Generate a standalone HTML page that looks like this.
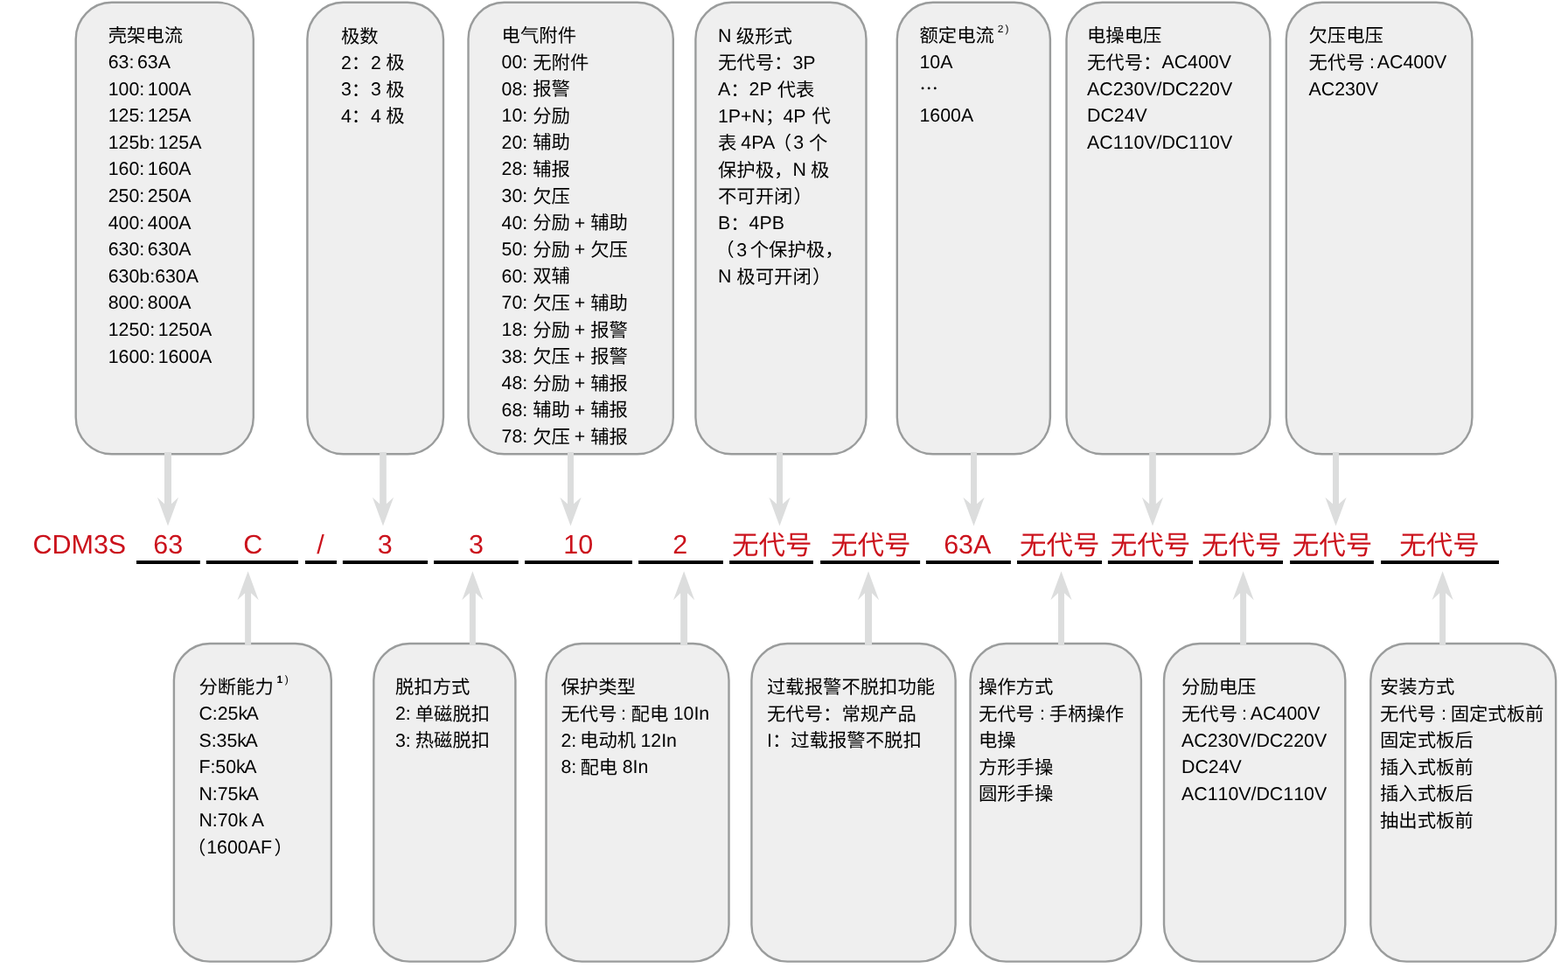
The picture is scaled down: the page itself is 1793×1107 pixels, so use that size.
<!DOCTYPE html>
<html lang="zh"><head><meta charset="utf-8"><title>CDM3S 型号说明</title>
<style>
html,body{margin:0;padding:0;background:#fff}
body{width:1793px;height:1107px;overflow:hidden;font-family:"Liberation Sans","Noto Sans CJK SC",sans-serif}
svg{display:block;will-change:transform;transform:translateZ(0)}
text{font-family:"Liberation Sans","Noto Sans CJK SC",sans-serif;font-kerning:none;text-rendering:geometricPrecision;white-space:pre}
.k{fill:#000;font-size:21.35px}
.r{fill:#cb121c;font-size:30.5px}
.bx{fill:#efefef;stroke:#9a9c9c;stroke-width:2.4}
.ar{fill:#dcdddd}
</style></head>
<body>
<svg width="1793" height="1107" viewBox="0 0 1793 1107" role="img" aria-label="CDM3S 型号含义说明图">
<g>
<rect class="bx" x="86.7" y="2.8" width="203.1" height="516.5" rx="41" ry="42"/>
<rect class="bx" x="351.4" y="2.8" width="155.6" height="516.5" rx="41" ry="42"/>
<rect class="bx" x="535.5" y="2.8" width="234.3" height="516.5" rx="41" ry="42"/>
<rect class="bx" x="795.4" y="2.8" width="195.1" height="516.5" rx="41" ry="42"/>
<rect class="bx" x="1025.8" y="2.8" width="175.1" height="516.5" rx="41" ry="42"/>
<rect class="bx" x="1219.5" y="2.8" width="232.9" height="516.5" rx="41" ry="42"/>
<rect class="bx" x="1470.8" y="2.8" width="212.6" height="516.5" rx="41" ry="42"/>
<rect class="bx" x="198.9" y="736" width="179.9" height="363.6" rx="41" ry="42"/>
<rect class="bx" x="427.3" y="736" width="162.1" height="363.6" rx="41" ry="42"/>
<rect class="bx" x="624.5" y="736" width="209" height="363.6" rx="41" ry="42"/>
<rect class="bx" x="859.4" y="736" width="233.2" height="363.6" rx="41" ry="42"/>
<rect class="bx" x="1109.5" y="736" width="195.4" height="363.6" rx="41" ry="42"/>
<rect class="bx" x="1331" y="736" width="207.3" height="363.6" rx="41" ry="42"/>
<rect class="bx" x="1567.3" y="736" width="211.8" height="363.6" rx="41" ry="42"/>
<path class="ar" d="M188 517 L188 576.3 L179.9 568.7 L192 601.5 L204.1 568.7 L196 576.3 L196 517 z"/>
<path class="ar" d="M434.15 517 L434.15 576.3 L425.9 568.7 L438 601.5 L450.1 568.7 L441.85 576.3 L441.85 517 z"/>
<path class="ar" d="M649 517 L649 576.3 L640.4 568.7 L652.5 601.5 L664.6 568.7 L656 576.3 L656 517 z"/>
<path class="ar" d="M888 517 L888 576.3 L879.4 568.7 L891.5 601.5 L903.6 568.7 L895 576.3 L895 517 z"/>
<path class="ar" d="M1110 517 L1110 576.3 L1101.4 568.7 L1113.5 601.5 L1125.6 568.7 L1117 576.3 L1117 517 z"/>
<path class="ar" d="M1314.15 517 L1314.15 576.3 L1305.9 568.7 L1318 601.5 L1330.1 568.7 L1321.85 576.3 L1321.85 517 z"/>
<path class="ar" d="M1524 517 L1524 576.3 L1515.4 568.7 L1527.5 601.5 L1539.6 568.7 L1531 576.3 L1531 517 z"/>
<path class="ar" d="M280.1 737.4 L280.1 678.3 L271.5 686.3 L283.6 653.3 L295.7 686.3 L287.1 678.3 L287.1 737.4 z"/>
<path class="ar" d="M536.9 737.4 L536.9 678.3 L528.3 686.3 L540.4 653.3 L552.5 686.3 L543.9 678.3 L543.9 737.4 z"/>
<path class="ar" d="M778.15 737.4 L778.15 678.3 L770 686.3 L782.1 653.3 L794.2 686.3 L786.05 678.3 L786.05 737.4 z"/>
<path class="ar" d="M989 737.4 L989 678.3 L980.9 686.3 L993 653.3 L1005.1 686.3 L997 678.3 L997 737.4 z"/>
<path class="ar" d="M1210 737.4 L1210 678.3 L1201.4 686.3 L1213.5 653.3 L1225.6 686.3 L1217 678.3 L1217 737.4 z"/>
<path class="ar" d="M1418.1 737.4 L1418.1 678.3 L1409.5 686.3 L1421.6 653.3 L1433.7 686.3 L1425.1 678.3 L1425.1 737.4 z"/>
<path class="ar" d="M1646.1 737.4 L1646.1 678.3 L1637.5 686.3 L1649.6 653.3 L1661.7 686.3 L1653.1 678.3 L1653.1 737.4 z"/>
<rect x="156" y="641" width="72.8" height="4"/>
<rect x="235.8" y="641" width="105.2" height="4"/>
<rect x="349" y="641" width="36" height="4"/>
<rect x="391.9" y="641" width="97.2" height="4"/>
<rect x="496.1" y="641" width="96.7" height="4"/>
<rect x="600.1" y="641" width="122.9" height="4"/>
<rect x="730.1" y="641" width="96.8" height="4"/>
<rect x="834.1" y="641" width="95.8" height="4"/>
<rect x="938.1" y="641" width="114" height="4"/>
<rect x="1058.9" y="641" width="97" height="4"/>
<rect x="1163" y="641" width="97" height="4"/>
<rect x="1266.9" y="641" width="97.2" height="4"/>
<rect x="1371.1" y="641" width="95.9" height="4"/>
<rect x="1475.1" y="641" width="95.8" height="4"/>
<rect x="1579.1" y="641" width="134.9" height="4"/>
<g role="text" aria-label="CDM3S"><text class="r" x="37.45 59.48 81.5 106.91 123.87" y="633">CDM3S</text></g>
<g role="text" aria-label="63"><text class="r" x="175.35 192.31" y="633">63</text></g>
<g role="text" aria-label="C"><text class="r" x="278.25" y="633">C</text></g>
<g role="text" aria-label="/"><text class="r" x="362.2" y="633">/</text></g>
<g role="text" aria-label="3"><text class="r" x="431.84" y="633">3</text></g>
<g role="text" aria-label="3"><text class="r" x="536.04" y="633">3</text></g>
<g role="text" aria-label="10"><text class="r" x="644.28 661.24" y="633">10</text></g>
<g role="text" aria-label="2"><text class="r" x="769.17" y="633">2</text></g>
<g role="text" aria-label="无代号"><text class="r" x="836.91 867.41 897.91" y="633.5">无代号</text></g>
<g role="text" aria-label="无代号"><text class="r" x="950.11 980.61 1011.11" y="633.5">无代号</text></g>
<g role="text" aria-label="63A"><text class="r" x="1079.15 1096.11 1113.08" y="633">63A</text></g>
<g role="text" aria-label="无代号"><text class="r" x="1166.01 1196.51 1227.01" y="633.5">无代号</text></g>
<g role="text" aria-label="无代号"><text class="r" x="1269.71 1300.21 1330.71" y="633.5">无代号</text></g>
<g role="text" aria-label="无代号"><text class="r" x="1373.91 1404.41 1434.91" y="633.5">无代号</text></g>
<g role="text" aria-label="无代号"><text class="r" x="1477.71 1508.21 1538.71" y="633.5">无代号</text></g>
<g role="text" aria-label="无代号"><text class="r" x="1600.21 1630.71 1661.21" y="633.5">无代号</text></g>
<g role="text" aria-label="壳架电流"><text class="k" x="123.7 145.05 166.4 187.75" y="48">壳架电流</text></g>
<g role="text" aria-label="63:63A"><text class="k" x="123.7 135.57 147.45 156.88 168.75 180.63" y="78">63:63A</text></g>
<g role="text" aria-label="100:100A"><text class="k" x="123.7 135.57 147.45 159.32 168.75 180.63 192.5 204.37" y="108.6">100:100A</text></g>
<g role="text" aria-label="125:125A"><text class="k" x="123.7 135.57 147.45 159.32 168.75 180.63 192.5 204.37" y="139.2">125:125A</text></g>
<g role="text" aria-label="125b:125A"><text class="k" x="123.7 135.57 147.45 159.32 171.2 180.63 192.5 204.37 216.25" y="169.8">125b:125A</text></g>
<g role="text" aria-label="160:160A"><text class="k" x="123.7 135.57 147.45 159.32 168.75 180.63 192.5 204.37" y="200.4">160:160A</text></g>
<g role="text" aria-label="250:250A"><text class="k" x="123.7 135.57 147.45 159.32 168.75 180.63 192.5 204.37" y="231">250:250A</text></g>
<g role="text" aria-label="400:400A"><text class="k" x="123.7 135.57 147.45 159.32 168.75 180.63 192.5 204.37" y="261.6">400:400A</text></g>
<g role="text" aria-label="630:630A"><text class="k" x="123.7 135.57 147.45 159.32 168.75 180.63 192.5 204.37" y="292.2">630:630A</text></g>
<g role="text" aria-label="630b:630A"><text class="k" x="123.7 135.57 147.45 159.32 171.2 177.13 189 200.87 212.75" y="322.8">630b:630A</text></g>
<g role="text" aria-label="800:800A"><text class="k" x="123.7 135.57 147.45 159.32 168.75 180.63 192.5 204.37" y="353.4">800:800A</text></g>
<g role="text" aria-label="1250:1250A"><text class="k" x="123.7 135.57 147.45 159.32 171.2 180.63 192.5 204.37 216.25 228.12" y="384">1250:1250A</text></g>
<g role="text" aria-label="1600:1600A"><text class="k" x="123.7 135.57 147.45 159.32 171.2 180.63 192.5 204.37 216.25 228.12" y="414.6">1600:1600A</text></g>
<g role="text" aria-label="极数"><text class="k" x="390 411.35" y="48.6">极数</text></g>
<g role="text" aria-label="2：2 极"><text class="k" x="390" y="78.6">2</text><text class="k" x="401.87" y="79.2">：</text><text class="k" x="424.02" y="78.6">2</text><text class="k" x="441.23" y="79.2">极</text></g>
<g role="text" aria-label="3：3 极"><text class="k" x="390" y="109.2">3</text><text class="k" x="401.87" y="109.8">：</text><text class="k" x="424.02" y="109.2">3</text><text class="k" x="441.23" y="109.8">极</text></g>
<g role="text" aria-label="4：4 极"><text class="k" x="390" y="139.8">4</text><text class="k" x="401.87" y="140.4">：</text><text class="k" x="424.02" y="139.8">4</text><text class="k" x="441.23" y="140.4">极</text></g>
<g role="text" aria-label="电气附件"><text class="k" x="573.6 594.95 616.3 637.65" y="48">电气附件</text></g>
<g role="text" aria-label="00: 无附件"><text class="k" x="573.6 585.47 597.35" y="78">00:</text><text class="k" x="609.21 630.56 651.91" y="78.6">无附件</text></g>
<g role="text" aria-label="08: 报警"><text class="k" x="573.6 585.47 597.35" y="108.6">08:</text><text class="k" x="609.21 630.56" y="109.2">报警</text></g>
<g role="text" aria-label="10: 分励"><text class="k" x="573.6 585.47 597.35" y="139.2">10:</text><text class="k" x="609.21 630.56" y="139.8">分励</text></g>
<g role="text" aria-label="20: 辅助"><text class="k" x="573.6 585.47 597.35" y="169.8">20:</text><text class="k" x="609.21 630.56" y="170.4">辅助</text></g>
<g role="text" aria-label="28: 辅报"><text class="k" x="573.6 585.47 597.35" y="200.4">28:</text><text class="k" x="609.21 630.56" y="201">辅报</text></g>
<g role="text" aria-label="30: 欠压"><text class="k" x="573.6 585.47 597.35" y="231">30:</text><text class="k" x="609.21 630.56" y="231.6">欠压</text></g>
<g role="text" aria-label="40: 分励 + 辅助"><text class="k" x="573.6 585.47 597.35" y="261.6">40:</text><text class="k" x="609.21 630.56" y="262.2">分励</text><text class="k" x="656.84" y="261.6">+</text><text class="k" x="675.24 696.59" y="262.2">辅助</text></g>
<g role="text" aria-label="50: 分励 + 欠压"><text class="k" x="573.6 585.47 597.35" y="292.2">50:</text><text class="k" x="609.21 630.56" y="292.8">分励</text><text class="k" x="656.84" y="292.2">+</text><text class="k" x="675.24 696.59" y="292.8">欠压</text></g>
<g role="text" aria-label="60: 双辅"><text class="k" x="573.6 585.47 597.35" y="322.8">60:</text><text class="k" x="609.21 630.56" y="323.4">双辅</text></g>
<g role="text" aria-label="70: 欠压 + 辅助"><text class="k" x="573.6 585.47 597.35" y="353.4">70:</text><text class="k" x="609.21 630.56" y="354">欠压</text><text class="k" x="656.84" y="353.4">+</text><text class="k" x="675.24 696.59" y="354">辅助</text></g>
<g role="text" aria-label="18: 分励 + 报警"><text class="k" x="573.6 585.47 597.35" y="384">18:</text><text class="k" x="609.21 630.56" y="384.6">分励</text><text class="k" x="656.84" y="384">+</text><text class="k" x="675.24 696.59" y="384.6">报警</text></g>
<g role="text" aria-label="38: 欠压 + 报警"><text class="k" x="573.6 585.47 597.35" y="414.6">38:</text><text class="k" x="609.21 630.56" y="415.2">欠压</text><text class="k" x="656.84" y="414.6">+</text><text class="k" x="675.24 696.59" y="415.2">报警</text></g>
<g role="text" aria-label="48: 分励 + 辅报"><text class="k" x="573.6 585.47 597.35" y="445.2">48:</text><text class="k" x="609.21 630.56" y="445.8">分励</text><text class="k" x="656.84" y="445.2">+</text><text class="k" x="675.24 696.59" y="445.8">辅报</text></g>
<g role="text" aria-label="68: 辅助 + 辅报"><text class="k" x="573.6 585.47 597.35" y="475.8">68:</text><text class="k" x="609.21 630.56" y="476.4">辅助</text><text class="k" x="656.84" y="475.8">+</text><text class="k" x="675.24 696.59" y="476.4">辅报</text></g>
<g role="text" aria-label="78: 欠压 + 辅报"><text class="k" x="573.6 585.47 597.35" y="506.4">78:</text><text class="k" x="609.21 630.56" y="507">欠压</text><text class="k" x="656.84" y="506.4">+</text><text class="k" x="675.24 696.59" y="507">辅报</text></g>
<g role="text" aria-label="N 级形式"><text class="k" x="821" y="48">N</text><text class="k" x="841.85 863.2 884.55" y="48.6">级形式</text></g>
<g role="text" aria-label="无代号：3P"><text class="k" x="821 842.35 863.7 885.05" y="79.2">无代号：</text><text class="k" x="906.4 918.27" y="78.6">3P</text></g>
<g role="text" aria-label="A：2P 代表"><text class="k" x="821" y="109.2">A</text><text class="k" x="835.24" y="109.8">：</text><text class="k" x="856.59 868.46" y="109.2">2P</text><text class="k" x="888.64 909.99" y="109.8">代表</text></g>
<g role="text" aria-label="1P+N；4P 代"><text class="k" x="821 832.87 847.11 859.58" y="139.8">1P+N</text><text class="k" x="875" y="140.4">；</text><text class="k" x="895.45 907.32" y="139.8">4P</text><text class="k" x="928.4" y="140.4">代</text></g>
<g role="text" aria-label="表 4PA（3 个"><text class="k" x="821" y="171">表</text><text class="k" x="847.28 859.16 872.1" y="170.4">4PA</text><text class="k" x="883.64" y="171">（</text><text class="k" x="907.19" y="170.4">3</text><text class="k" x="924.99" y="171">个</text></g>
<g role="text" aria-label="保护极，N 极"><text class="k" x="821 842.35 863.7 885.05" y="201.6">保护极，</text><text class="k" x="906.4" y="201">N</text><text class="k" x="926.95" y="201.6">极</text></g>
<g role="text" aria-label="不可开闭）"><text class="k" x="821 842.35 863.7 885.05 907.6" y="232.2">不可开闭）</text></g>
<g role="text" aria-label="B：4PB"><text class="k" x="821" y="262.2">B</text><text class="k" x="835.24" y="262.8">：</text><text class="k" x="856.59 868.46 882.7" y="262.2">4PB</text></g>
<g role="text" aria-label="（3 个保护极，"><text class="k" x="818.3" y="293.4">（</text><text class="k" x="842.35" y="292.8">3</text><text class="k" x="857.76 879.11 900.46 921.81 943.16" y="293.4">个保护极，</text></g>
<g role="text" aria-label="N 极可开闭）"><text class="k" x="821" y="323.4">N</text><text class="k" x="842.35 863.7 885.05 906.4 928.95" y="324">极可开闭）</text></g>
<g role="text" aria-label="额定电流2)"><text class="k" x="1051.5 1072.85 1094.2 1115.55" y="48">额定电流</text><text class="k" x="1140.7" y="37.3" style="font-size:12px">2</text><text class="k" x="1149.57" y="37.3" style="font-size:12px">)</text></g>
<g role="text" aria-label="10A"><text class="k" x="1051.5 1063.37 1075.25" y="78">10A</text></g>
<g role="text" aria-label="…"><text class="k" x="1051.5" y="109.2" style="font-family:'Noto Sans CJK SC','Liberation Sans',sans-serif">…</text></g>
<g role="text" aria-label="1600A"><text class="k" x="1051.5 1063.37 1075.25 1087.12 1099" y="139.2">1600A</text></g>
<g role="text" aria-label="电操电压"><text class="k" x="1243 1264.35 1285.7 1307.05" y="48">电操电压</text></g>
<g role="text" aria-label="无代号：AC400V"><text class="k" x="1243 1264.35 1285.7 1307.05" y="78.6">无代号：</text><text class="k" x="1328.4 1342.64 1358.06 1369.93 1381.81 1393.68" y="78">AC400V</text></g>
<g role="text" aria-label="AC230V/DC220V"><text class="k" x="1243 1257.24 1272.66 1284.53 1296.41 1308.28 1322.52 1328.45 1343.87 1359.29 1371.16 1383.04 1394.91" y="108.6">AC230V/DC220V</text></g>
<g role="text" aria-label="DC24V"><text class="k" x="1243 1258.42 1273.84 1285.71 1297.58" y="139.2">DC24V</text></g>
<g role="text" aria-label="AC110V/DC110V"><text class="k" x="1243 1257.24 1272.66 1284.53 1296.41 1308.28 1322.52 1328.45 1343.87 1359.29 1371.16 1383.04 1394.91" y="169.8">AC110V/DC110V</text></g>
<g role="text" aria-label="欠压电压"><text class="k" x="1496.5 1517.85 1539.2 1560.55" y="48">欠压电压</text></g>
<g role="text" aria-label="无代号 :AC400V"><text class="k" x="1496.5 1517.85 1539.2" y="78.6">无代号</text><text class="k" x="1566.03 1574.81 1589.05 1604.47 1616.35 1628.22 1640.09" y="78">:AC400V</text></g>
<g role="text" aria-label="AC230V"><text class="k" x="1496.5 1510.74 1526.16 1538.03 1549.91 1561.78" y="108.6">AC230V</text></g>
<g role="text" aria-label="分断能力1)"><text class="k" x="227.4 248.75 270.1 291.45" y="793">分断能力</text><text class="k" x="316.4" y="780.8" style="font-size:12px;font-weight:bold">1</text><text class="k" x="325.67" y="780.8" style="font-size:12px">)</text></g>
<g role="text" aria-label="C:25kA"><text class="k" x="227.4 242.82 248.75 260.62 272.5 281.57" y="823">C:25kA</text></g>
<g role="text" aria-label="S:35kA"><text class="k" x="227.4 241.64 247.57 259.45 271.32 280.39" y="853.6">S:35kA</text></g>
<g role="text" aria-label="F:50kA"><text class="k" x="227.4 240.44 246.37 258.25 270.12 279.2" y="884.2">F:50kA</text></g>
<g role="text" aria-label="N:75kA"><text class="k" x="227.4 242.82 248.75 260.62 272.5 281.57" y="914.8">N:75kA</text></g>
<g role="text" aria-label="N:70k A"><text class="k" x="227.4 242.82 248.75 260.62 272.5" y="945.4">N:70k</text><text class="k" x="287.8" y="945.4">A</text></g>
<g role="text" aria-label="（1600AF）"><text class="k" x="214.1" y="976.6">（</text><text class="k" x="236.2 248.07 259.95 271.82 283.7 297.94" y="976">1600AF</text><text class="k" x="313.38" y="976.6">）</text></g>
<g role="text" aria-label="脱扣方式"><text class="k" x="452 473.35 494.7 516.05" y="793">脱扣方式</text></g>
<g role="text" aria-label="2: 单磁脱扣"><text class="k" x="452 463.87" y="823">2:</text><text class="k" x="474.74 496.09 517.44 538.79" y="823.6">单磁脱扣</text></g>
<g role="text" aria-label="3: 热磁脱扣"><text class="k" x="452 463.87" y="853.6">3:</text><text class="k" x="474.74 496.09 517.44 538.79" y="854.2">热磁脱扣</text></g>
<g role="text" aria-label="保护类型"><text class="k" x="641.5 662.85 684.2 705.55" y="793">保护类型</text></g>
<g role="text" aria-label="无代号 : 配电 10In"><text class="k" x="641.5 662.85 684.2" y="823.6">无代号</text><text class="k" x="710.08" y="823">:</text><text class="k" x="721.55 742.9" y="823.6">配电</text><text class="k" x="769.68 781.55 793.42 799.36" y="823">10In</text></g>
<g role="text" aria-label="2: 电动机 12In"><text class="k" x="641.5 653.37" y="853.6">2:</text><text class="k" x="663.04 684.39 705.74" y="854.2">电动机</text><text class="k" x="732.42 744.29 756.17 762.1" y="853.6">12In</text></g>
<g role="text" aria-label="8: 配电 8In"><text class="k" x="641.5 653.37" y="884.2">8:</text><text class="k" x="663.44 684.79" y="884.8">配电</text><text class="k" x="711.67 723.54 729.47" y="884.2">8In</text></g>
<g role="text" aria-label="过载报警不脱扣功能"><text class="k" x="877 898.35 919.7 941.05 962.4 983.75 1005.1 1026.45 1047.8" y="793">过载报警不脱扣功能</text></g>
<g role="text" aria-label="无代号：常规产品"><text class="k" x="877 898.35 919.7 941.05 962.4 983.75 1005.1 1026.45" y="823.6">无代号：常规产品</text></g>
<g role="text" aria-label="I：过载报警不脱扣"><text class="k" x="877" y="853.6">I</text><text class="k" x="882.93 904.28 925.63 946.98 968.33 989.68 1011.03 1032.38" y="854.2">：过载报警不脱扣</text></g>
<g role="text" aria-label="操作方式"><text class="k" x="1118.9 1140.25 1161.6 1182.95" y="793">操作方式</text></g>
<g role="text" aria-label="无代号 : 手柄操作"><text class="k" x="1118.9 1140.25 1161.6" y="823.6">无代号</text><text class="k" x="1188.88" y="823">:</text><text class="k" x="1199.75 1221.1 1242.45 1263.8" y="823.6">手柄操作</text></g>
<g role="text" aria-label="电操"><text class="k" x="1118.9 1140.25" y="854.2">电操</text></g>
<g role="text" aria-label="方形手操"><text class="k" x="1118.9 1140.25 1161.6 1182.95" y="884.8">方形手操</text></g>
<g role="text" aria-label="圆形手操"><text class="k" x="1118.9 1140.25 1161.6 1182.95" y="915.4">圆形手操</text></g>
<g role="text" aria-label="分励电压"><text class="k" x="1351 1372.35 1393.7 1415.05" y="793">分励电压</text></g>
<g role="text" aria-label="无代号 :AC400V"><text class="k" x="1351 1372.35 1393.7" y="823.6">无代号</text><text class="k" x="1420.03 1429.86 1444.1 1459.52 1471.4 1483.27 1495.14" y="823">:AC400V</text></g>
<g role="text" aria-label="AC230V/DC220V"><text class="k" x="1351 1365.24 1380.66 1392.53 1404.41 1416.28 1430.52 1436.45 1451.87 1467.29 1479.16 1491.04 1502.91" y="853.6">AC230V/DC220V</text></g>
<g role="text" aria-label="DC24V"><text class="k" x="1351 1366.42 1381.84 1393.71 1405.58" y="884.2">DC24V</text></g>
<g role="text" aria-label="AC110V/DC110V"><text class="k" x="1351 1365.24 1380.66 1392.53 1404.41 1416.28 1430.52 1436.45 1451.87 1467.29 1479.16 1491.04 1502.91" y="914.8">AC110V/DC110V</text></g>
<g role="text" aria-label="安装方式"><text class="k" x="1578 1599.35 1620.7 1642.05" y="793">安装方式</text></g>
<g role="text" aria-label="无代号 : 固定式板前"><text class="k" x="1578 1599.35 1620.7" y="823.6">无代号</text><text class="k" x="1647.98" y="823">:</text><text class="k" x="1658.65 1680 1701.35 1722.7 1744.05" y="823.6">固定式板前</text></g>
<g role="text" aria-label="固定式板后"><text class="k" x="1578 1599.35 1620.7 1642.05 1663.4" y="854.2">固定式板后</text></g>
<g role="text" aria-label="插入式板前"><text class="k" x="1578 1599.35 1620.7 1642.05 1663.4" y="884.8">插入式板前</text></g>
<g role="text" aria-label="插入式板后"><text class="k" x="1578 1599.35 1620.7 1642.05 1663.4" y="915.4">插入式板后</text></g>
<g role="text" aria-label="抽出式板前"><text class="k" x="1578 1599.35 1620.7 1642.05 1663.4" y="946">抽出式板前</text></g>
</g>
</svg>
</body></html>
